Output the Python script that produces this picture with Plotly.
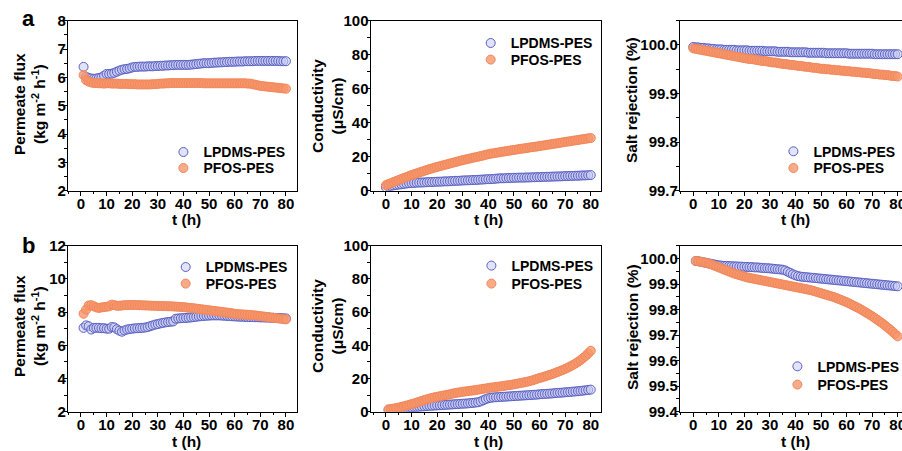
import plotly.graph_objects as go

# ---------------- data ----------------
t_a_flux = list(range(1, 81))
t_a_cond = list(range(0, 81))
t_a_rej = list(range(0, 81))
t_b = list(range(1, 81))

a_flux_lpdms = [6.37, 6.02, 5.98, 5.96, 5.95, 5.96, 5.98, 6.00, 6.06, 6.12,
                6.12, 6.13, 6.16, 6.20, 6.24, 6.27, 6.29, 6.30, 6.32, 6.35,
                6.37, 6.37, 6.38, 6.38, 6.38, 6.39, 6.39, 6.39, 6.40, 6.40,
                6.41, 6.41, 6.42, 6.42, 6.43, 6.43, 6.44, 6.44, 6.44, 6.44,
                6.44, 6.44, 6.45, 6.46, 6.47, 6.48, 6.49, 6.50, 6.50, 6.50,
                6.51, 6.52, 6.52, 6.53, 6.53, 6.54, 6.54, 6.55, 6.55, 6.55,
                6.56, 6.56, 6.56, 6.57, 6.57, 6.57, 6.57, 6.58, 6.58, 6.58,
                6.58, 6.58, 6.58, 6.58, 6.58, 6.58, 6.58, 6.57, 6.57, 6.57]
a_flux_pfos = [6.08, 5.90, 5.85, 5.82, 5.80, 5.80, 5.79, 5.79, 5.78, 5.79,
               5.79, 5.78, 5.78, 5.78, 5.77, 5.77, 5.77, 5.77, 5.76, 5.76,
               5.76, 5.75, 5.75, 5.75, 5.75, 5.75, 5.75, 5.76, 5.76, 5.77,
               5.78, 5.78, 5.79, 5.79, 5.80, 5.80, 5.80, 5.80, 5.80, 5.80,
               5.80, 5.80, 5.80, 5.80, 5.80, 5.80, 5.80, 5.79, 5.79, 5.79,
               5.79, 5.79, 5.79, 5.79, 5.79, 5.79, 5.79, 5.79, 5.79, 5.79,
               5.79, 5.79, 5.79, 5.79, 5.78, 5.78, 5.76, 5.74, 5.72, 5.70,
               5.69, 5.68, 5.67, 5.66, 5.65, 5.64, 5.63, 5.62, 5.61, 5.60]

a_cond_lpdms = [2.0, 2.4, 2.8, 3.1, 3.4, 3.6, 3.8, 4.0, 4.2, 4.4, 4.5,
                4.6, 4.7, 4.8, 4.8, 4.9, 5.0, 5.1, 5.1, 5.2, 5.3,
                5.3, 5.4, 5.5, 5.5, 5.6, 5.7, 5.8, 5.8, 5.9, 6.0,
                6.1, 6.1, 6.2, 6.3, 6.3, 6.4, 6.5, 6.6, 6.7, 6.8,
                6.8, 6.9, 7.1, 7.2, 7.3, 7.3, 7.4, 7.5, 7.5, 7.6,
                7.6, 7.7, 7.7, 7.7, 7.8, 7.8, 7.9, 7.9, 8.0, 8.0,
                8.1, 8.1, 8.2, 8.2, 8.3, 8.3, 8.4, 8.4, 8.5, 8.6,
                8.6, 8.7, 8.7, 8.8, 8.8, 8.9, 9.0, 9.0, 9.1, 9.2]
a_cond_pfos = [3.3, 3.9, 4.5, 5.1, 5.7, 6.3, 6.9, 7.5, 8.0, 8.6, 9.2,
               9.7, 10.2, 10.7, 11.2, 11.7, 12.2, 12.7, 13.1, 13.6, 14.0,
               14.4, 14.8, 15.2, 15.6, 16.0, 16.4, 16.8, 17.2, 17.6, 18.0,
               18.3, 18.7, 19.0, 19.4, 19.7, 20.0, 20.4, 20.7, 21.1, 21.5,
               21.8, 22.0, 22.3, 22.5, 22.8, 23.0, 23.3, 23.5, 23.8, 24.0,
               24.2, 24.5, 24.7, 24.9, 25.1, 25.4, 25.6, 25.8, 26.0, 26.3,
               26.5, 26.7, 27.0, 27.2, 27.5, 27.7, 27.9, 28.2, 28.4, 28.7,
               28.9, 29.1, 29.4, 29.6, 29.8, 30.1, 30.3, 30.5, 30.8, 31.0]

a_rej_lpdms = [99.996, 99.995, 99.995, 99.994, 99.994, 99.993, 99.993, 99.992, 99.992, 99.991, 99.991,
               99.991, 99.990, 99.990, 99.990, 99.990, 99.990, 99.989, 99.989, 99.989, 99.989,
               99.989, 99.988, 99.988, 99.988, 99.988, 99.988, 99.988, 99.987, 99.987, 99.987,
               99.987, 99.987, 99.986, 99.986, 99.986, 99.986, 99.986, 99.985, 99.985, 99.985,
               99.985, 99.985, 99.985, 99.985, 99.984, 99.984, 99.984, 99.984, 99.984, 99.984,
               99.984, 99.983, 99.983, 99.983, 99.983, 99.983, 99.983, 99.983, 99.983, 99.983,
               99.982, 99.982, 99.982, 99.982, 99.982, 99.982, 99.982, 99.982, 99.982, 99.982,
               99.981, 99.981, 99.981, 99.981, 99.981, 99.981, 99.981, 99.981, 99.981, 99.981]
a_rej_pfos = [99.993, 99.992, 99.991, 99.990, 99.989, 99.988, 99.987, 99.986, 99.985, 99.984, 99.983,
              99.982, 99.981, 99.980, 99.979, 99.978, 99.977, 99.976, 99.975, 99.974, 99.973,
              99.972, 99.971, 99.971, 99.970, 99.969, 99.968, 99.967, 99.967, 99.966, 99.965,
              99.964, 99.964, 99.963, 99.962, 99.961, 99.961, 99.960, 99.959, 99.959, 99.958,
              99.957, 99.957, 99.956, 99.955, 99.955, 99.954, 99.953, 99.953, 99.952, 99.951,
              99.951, 99.950, 99.950, 99.949, 99.949, 99.948, 99.948, 99.947, 99.947, 99.946,
              99.946, 99.945, 99.945, 99.944, 99.944, 99.943, 99.943, 99.942, 99.942, 99.941,
              99.940, 99.940, 99.939, 99.939, 99.938, 99.938, 99.937, 99.936, 99.936, 99.935]

b_flux_lpdms = [7.05, 7.20, 7.15, 6.95, 7.05, 7.05, 7.05, 7.03, 7.03, 7.00,
                7.00, 7.10, 7.08, 6.97, 6.88, 6.82, 6.90, 6.95, 6.98, 7.00,
                7.02, 7.03, 7.04, 7.05, 7.07, 7.10, 7.15, 7.20, 7.25, 7.28,
                7.32, 7.35, 7.38, 7.40, 7.42, 7.44, 7.60, 7.62, 7.63, 7.64,
                7.65, 7.66, 7.68, 7.70, 7.72, 7.74, 7.76, 7.77, 7.78, 7.79,
                7.80, 7.80, 7.80, 7.80, 7.79, 7.78, 7.77, 7.76, 7.75, 7.74,
                7.73, 7.72, 7.72, 7.71, 7.70, 7.70, 7.70, 7.69, 7.69, 7.68,
                7.68, 7.67, 7.67, 7.66, 7.66, 7.65, 7.65, 7.64, 7.63, 7.62]
b_flux_pfos = [7.90, 8.15, 8.40, 8.42, 8.35, 8.28, 8.25, 8.28, 8.30, 8.32,
               8.35, 8.45, 8.42, 8.38, 8.38, 8.40, 8.42, 8.42, 8.43, 8.43,
               8.43, 8.42, 8.42, 8.41, 8.40, 8.40, 8.39, 8.38, 8.38, 8.37,
               8.37, 8.36, 8.36, 8.35, 8.35, 8.34, 8.33, 8.32, 8.31, 8.30,
               8.28, 8.26, 8.25, 8.23, 8.21, 8.19, 8.17, 8.15, 8.13, 8.11,
               8.09, 8.07, 8.05, 8.03, 8.01, 7.99, 7.97, 7.95, 7.93, 7.90,
               7.88, 7.87, 7.86, 7.85, 7.84, 7.83, 7.81, 7.80, 7.78, 7.76,
               7.74, 7.72, 7.70, 7.68, 7.66, 7.64, 7.62, 7.60, 7.58, 7.56]

b_cond_lpdms = [1.0, 1.2, 1.4, 1.6, 1.8, 2.0, 2.2, 2.3, 2.5, 2.6,
                2.8, 2.9, 3.0, 3.1, 3.3, 3.4, 3.5, 3.6, 3.7, 3.8,
                3.9, 4.0, 4.1, 4.2, 4.3, 4.4, 4.5, 4.6, 4.7, 4.8,
                4.9, 5.0, 5.2, 5.3, 5.5, 5.7, 6.2, 6.9, 7.6, 8.1,
                8.4, 8.6, 8.7, 8.8, 8.9, 9.0, 9.1, 9.2, 9.3, 9.4,
                9.5, 9.6, 9.7, 9.8, 9.9, 10.0, 10.1, 10.2, 10.3, 10.5,
                10.6, 10.7, 10.8, 10.9, 11.0, 11.2, 11.3, 11.4, 11.5, 11.7,
                11.8, 11.9, 12.1, 12.2, 12.4, 12.5, 12.7, 12.9, 13.1, 13.3]
b_cond_pfos = [1.5, 1.7, 1.9, 2.2, 2.5, 2.9, 3.3, 3.7, 4.1, 4.6,
               5.0, 5.5, 6.0, 6.5, 7.0, 7.5, 7.9, 8.3, 8.7, 9.0,
               9.3, 9.6, 9.9, 10.2, 10.5, 10.9, 11.2, 11.5, 11.7, 12.0,
               12.2, 12.4, 12.6, 12.8, 13.0, 13.3, 13.5, 13.8, 14.0, 14.3,
               14.5, 14.7, 14.9, 15.1, 15.3, 15.5, 15.8, 16.0, 16.2, 16.5,
               16.8, 17.1, 17.4, 17.7, 18.0, 18.4, 18.8, 19.3, 19.8, 20.3,
               20.7, 21.2, 21.7, 22.2, 22.7, 23.3, 23.9, 24.5, 25.1, 25.8,
               26.5, 27.3, 28.1, 29.0, 30.0, 31.1, 32.3, 33.6, 35.1, 36.7]

b_rej_lpdms = [99.990, 99.989, 99.987, 99.985, 99.983, 99.981, 99.979, 99.977, 99.975, 99.973,
               99.972, 99.971, 99.971, 99.970, 99.970, 99.969, 99.969, 99.968, 99.968, 99.967,
               99.967, 99.966, 99.966, 99.965, 99.965, 99.964, 99.963, 99.962, 99.962, 99.961,
               99.960, 99.959, 99.958, 99.957, 99.956, 99.953, 99.948, 99.943, 99.938, 99.934,
               99.931, 99.929, 99.928, 99.927, 99.926, 99.925, 99.924, 99.923, 99.922, 99.921,
               99.920, 99.919, 99.918, 99.917, 99.916, 99.915, 99.914, 99.913, 99.912, 99.911,
               99.910, 99.909, 99.908, 99.907, 99.906, 99.905, 99.904, 99.903, 99.902, 99.901,
               99.900, 99.899, 99.898, 99.897, 99.896, 99.895, 99.894, 99.893, 99.892, 99.891]
b_rej_pfos = [99.990, 99.989, 99.987, 99.985, 99.983, 99.980, 99.977, 99.973, 99.969, 99.965,
              99.961, 99.957, 99.953, 99.949, 99.945, 99.941, 99.938, 99.935, 99.932, 99.929,
              99.926, 99.924, 99.922, 99.920, 99.918, 99.916, 99.914, 99.912, 99.910, 99.908,
              99.906, 99.904, 99.902, 99.900, 99.898, 99.896, 99.894, 99.892, 99.890, 99.888,
              99.886, 99.884, 99.882, 99.880, 99.878, 99.876, 99.873, 99.870, 99.867, 99.864,
              99.861, 99.858, 99.855, 99.852, 99.849, 99.845, 99.841, 99.837, 99.833, 99.829,
              99.824, 99.819, 99.814, 99.809, 99.804, 99.798, 99.792, 99.786, 99.780, 99.774,
              99.767, 99.760, 99.753, 99.746, 99.738, 99.730, 99.722, 99.713, 99.704, 99.695]

series_names = ["LPDMS-PES", "PFOS-PES"]
x_ticks = [0, 10, 20, 30, 40, 50, 60, 70, 80]

# ---------------- style ----------------
W, H = 902, 451
FONT = "Liberation Sans, Arial, sans-serif"
BLUE_FILL = "rgba(200,204,242,0.55)"
BLUE_LINE = "#5a60c2"
ORANGE_FILL = "rgba(246,150,108,0.8)"
ORANGE_LINE = "#f2875a"
MSIZE = 9

def px_x(p):
    return p / W

def px_y(p):
    return 1 - p / H

panels = [
    dict(xl=68, xr=296.7, yt=20.7, yb=190.7, xr_=[-5.07, 84.2], yr=[2, 8], dt=1, mdt=0.5, fmt=None),
    dict(xl=370.7, xr=600.5, yt=20.7, yb=190.7, xr_=[-5.97, 83.8], yr=[0, 100], dt=20, mdt=10, fmt=None),
    dict(xl=680, xr=902, yt=20.7, yb=190.7, xr_=[-5.2, 81.7], yr=[99.7, 100.05], dt=0.1, mdt=0.05, fmt=".1f"),
    dict(xl=68, xr=296.7, yt=245.7, yb=411.7, xr_=[-5.07, 84.2], yr=[2, 12], dt=2, mdt=1, fmt=None),
    dict(xl=370.7, xr=600.5, yt=245.7, yb=411.7, xr_=[-5.97, 83.8], yr=[0, 100], dt=20, mdt=10, fmt=None),
    dict(xl=680, xr=902, yt=245.7, yb=411.7, xr_=[-5.2, 81.7], yr=[99.4, 100.05], dt=0.1, mdt=0.05, fmt=".1f"),
]

data_sets = [
    (t_a_flux, a_flux_lpdms, a_flux_pfos),
    (t_a_cond, a_cond_lpdms, a_cond_pfos),
    (t_a_rej, a_rej_lpdms, a_rej_pfos),
    (t_b, b_flux_lpdms, b_flux_pfos),
    (t_b, b_cond_lpdms, b_cond_pfos),
    (t_b, b_rej_lpdms, b_rej_pfos),
]

# legend item placement: marker centre x, item centre y for each series (px)
legend_pos = [
    (182.7, 150.7, 166.7),
    (490.0, 41.7, 58.3),
    (792.7, 150.0, 166.7),
    (185.0, 265.7, 282.3),
    (490.7, 264.3, 282.3),
    (796.7, 365.0, 383.3),
]

fig = go.Figure()
layout = dict(
    width=W, height=H, margin=dict(l=0, r=0, t=0, b=0, autoexpand=False),
    paper_bgcolor="white", plot_bgcolor="white",
    font=dict(family=FONT, size=14, color="black", weight="bold"),
    showlegend=True,
)

tickfont = dict(family=FONT, size=15, color="black", weight="bold")
styles = [
    dict(color=BLUE_FILL, line=dict(color=BLUE_LINE, width=1)),
    dict(color=ORANGE_FILL, line=dict(color=ORANGE_LINE, width=1)),
]

for i, (p, (tt, s1, s2)) in enumerate(zip(panels, data_sets)):
    n = i + 1
    xa = "x" if n == 1 else f"x{n}"
    ya = "y" if n == 1 else f"y{n}"
    mx, my1, my2 = legend_pos[i]
    for j, (ys, my) in enumerate(zip((s1, s2), (my1, my2))):
        k = 2 * i + j + 1
        lg = "legend" if k == 1 else f"legend{k}"
        fig.add_trace(go.Scatter(
            x=tt, y=ys, mode="markers", name=series_names[j], xaxis=xa, yaxis=ya, legend=lg,
            marker=dict(symbol="circle", size=MSIZE, **styles[j]),
        ))
        layout[lg] = dict(
            x=px_x(mx - 19.3), y=px_y(my - 14.3), xanchor="left", yanchor="top",
            bgcolor="rgba(0,0,0,0)", borderwidth=0,
            font=dict(family=FONT, size=14, color="black", weight="bold"),
        )
    last = (n % 3 == 0)
    layout[f"xaxis{'' if n == 1 else n}"] = dict(
        domain=[px_x(p["xl"]), min(1.0, px_x(p["xr"]))], anchor=ya, range=p["xr_"],
        tickmode="array", tickvals=x_ticks, ticks="outside", ticklen=4, tickwidth=1.3,
        tickcolor="black", showline=True, linecolor="black", linewidth=1.3, mirror=True,
        showgrid=False, zeroline=False, tickfont=tickfont, automargin=False,
        ticklabelstandoff=-5, ticklabeloverflow="allow",
        minor=dict(dtick=5, tick0=0, ticks="outside", ticklen=2.5, tickwidth=1, tickcolor="black", showgrid=False),
    )
    yd = dict(
        domain=[px_y(p["yb"]), px_y(p["yt"])], anchor=xa, range=p["yr"],
        dtick=p["dt"], tick0=p["yr"][0], ticks="outside", ticklen=4, tickwidth=1.3,
        tickcolor="black", showline=True, linecolor="black", linewidth=1.3,
        mirror=(False if last else True), automargin=False,
        showgrid=False, zeroline=False, tickfont=tickfont,
        ticklabelstandoff=-6, ticklabeloverflow="allow",
        minor=dict(dtick=p["mdt"], ticks="outside", ticklen=2.5, tickwidth=1, tickcolor="black", showgrid=False),
    )
    if p["fmt"]:
        yd["tickformat"] = p["fmt"]
    layout[f"yaxis{'' if n == 1 else n}"] = yd

fig.update_layout(**layout)

title_font = dict(family=FONT, size=15.5, color="black", weight="bold")
ytitles = [
    ("Permeate flux<br>(kg m<sup>-2</sup> h<sup>-1</sup>)", 29, 104),
    ("Conductivity<br>(μS/cm)", 327, 106),
    ("Salt rejection (%)", 632, 100),
    ("Permeate flux<br>(kg m<sup>-2</sup> h<sup>-1</sup>)", 29, 326),
    ("Conductivity<br>(μS/cm)", 327, 326),
    ("Salt rejection (%)", 632, 327),
]
for txt, x, y in ytitles:
    fig.add_annotation(text=txt, x=px_x(x), y=px_y(y), xref="paper", yref="paper",
                       xanchor="center", yanchor="middle", textangle=-90, showarrow=False,
                       font=title_font)
xtitles = [(186, 219), (488, 219), (795, 219), (186, 441), (488, 441), (795, 441)]
for x, y in xtitles:
    fig.add_annotation(text="t (h)", x=px_x(x), y=px_y(y), xref="paper", yref="paper",
                       xanchor="center", yanchor="middle", showarrow=False, font=title_font)
for lab, x, y in [("a", 28, 18), ("b", 28, 245)]:
    fig.add_annotation(text=lab, x=px_x(x), y=px_y(y), xref="paper", yref="paper",
                       xanchor="center", yanchor="middle", showarrow=False,
                       font=dict(family=FONT, size=22, color="black", weight="bold"))

fig.write_html("out.html", config={"displayModeBar": False},
               post_script="document.body.style.margin='0';document.body.style.overflow='hidden';")
